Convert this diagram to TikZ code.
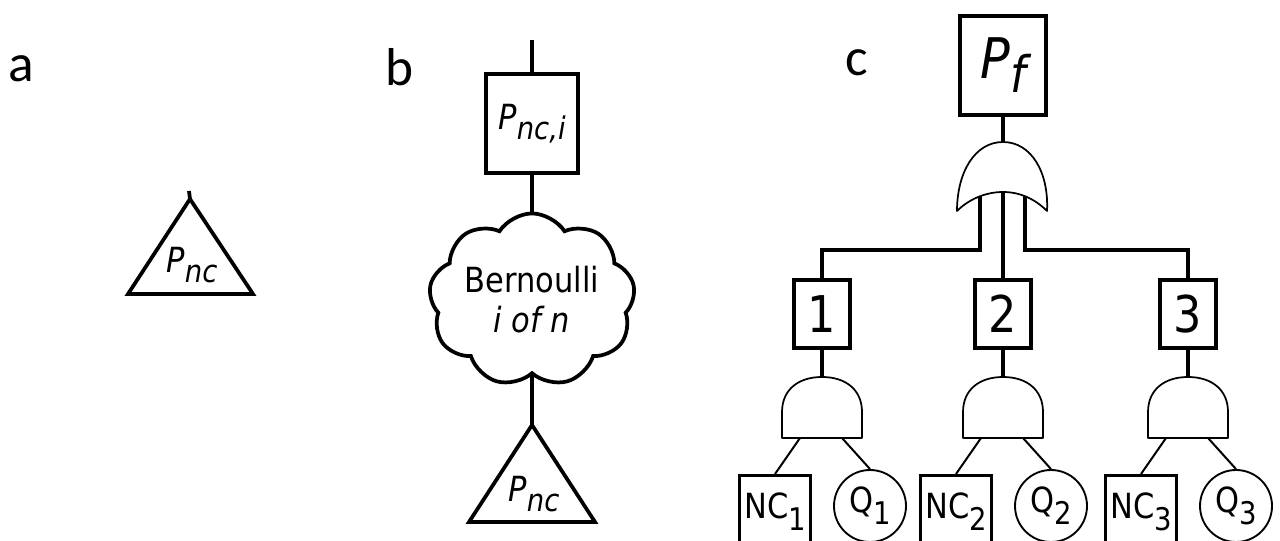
\documentclass[tikz,border=0pt]{standalone}
\usepackage{fontspec}
\usepackage{graphicx}
\setmainfont[FakeStretch=0.88]{DejaVu Sans}
\newfontfamily\labfont{Carlito}
\usetikzlibrary{shapes.symbols,backgrounds}
\newcommand{\lsub}[2][0.3em]{\raisebox{-#1}{\scalebox{0.9}{#2}}}
\begin{document}
\begin{tikzpicture}[x=0.75pt,y=-0.75pt,
  thk/.style={line width=2.8pt},
  thn/.style={line width=1.3pt},
  lab/.style={font=\labfont\fontsize{40}{40}\selectfont, inner sep=0pt},
  bx/.style={draw, thk, fill=white, inner sep=0pt},
  gate/.style={draw, thn, fill=white, line join=round},
  leaf/.style={line width=1.5pt},
  ptxt/.style={font=\fontsize{26}{26}\selectfont\itshape, inner sep=0pt}]

\useasboundingbox (0,0) rectangle (1280,541);

% panel labels
\node[lab] (la) at (21,69) {a};
\node[lab] (lb) at (400,67) {b};
\node[lab] (lc) at (857,63) {c};

% ---------------- panel a
\coordinate (aStub) at (189,191);
\coordinate (aApex) at (190,199);
\draw[thk] (aApex) -- (253,294) -- (128,294) -- cycle;
\draw[thk] (aStub) -- (aApex);
\node[ptxt] (aTxt) at (192,265) {P\lsub{nc}};

% ---------------- panel b
\coordinate (bTop) at (532,40);
\node[bx, minimum width=68.5pt, minimum height=74.5pt, font=\fontsize{26}{26}\selectfont\itshape] (bBox) at (532,123.5) {P\lsub{nc,i}};
\node[cloud, draw, thk, fill=white, cloud puffs=9, cloud puff arc=115, aspect=1.3,
      minimum width=149pt, minimum height=113pt, inner sep=0pt, align=center,
      font=\fontsize{26}{30}\selectfont] (bCloud) at (532,300) {Bernoulli\\\textit{i of n}};
\coordinate (bApex) at (532,425);
\draw[thk] (bApex) -- (595,522) -- (469,522) -- cycle;
\node[ptxt] (bTxt) at (534,494) {P\lsub{nc}};
\draw[thk] (bTop) -- (bBox.north);
\begin{pgfonlayer}{background}
\draw[thk] (bBox.south) -- (bCloud.center);
\draw[thk] (bCloud.center) -- (bApex);
\end{pgfonlayer}

% ---------------- panel c
\node[bx, minimum width=64pt, minimum height=74.5pt, font=\fontsize{42}{42}\selectfont\itshape] (pf) at (1003,65.5) {P\lsub[0.25em]{f}};
\coordinate (orTop) at (1003,142);
\coordinate (orMid) at (1003,192);
\coordinate (orL) at (980,185);
\coordinate (orR) at (1025,185);
\coordinate (jL) at (980,250);
\coordinate (jR) at (1025,250);

\foreach \i/\cx in {1/822,2/1003,3/1188}{
  \node[bx, minimum width=42.2pt, minimum height=51.2pt, font=\fontsize{38}{38}\selectfont] (b\i) at (\cx,314) {\i};
  \coordinate (g\i) at (\cx,377);
  \coordinate (gL\i) at (\cx-22,438);
  \coordinate (gR\i) at (\cx+20,438);
  \node[draw, line width=2.5pt, fill=white, inner sep=0pt, minimum width=53pt, minimum height=54.5pt,
        font=\fontsize{26}{26}\selectfont] (nc\i) at (\cx-47,512) {NC\lsub[0.35em]{\i}};
  \node[draw, circle, line width=1.4pt, fill=white, inner sep=0pt, minimum size=54pt,
        font=\fontsize{26}{26}\selectfont] (q\i) at (\cx+48,506) {Q\lsub[0.35em]{\i}};
  \draw[thk] (b\i.south) -- (g\i);
  \draw[gate] (\cx-40,438) -- (\cx-40,412) .. controls (\cx-40,390) and (\cx-24,377) .. (g\i)
     .. controls (\cx+24,377) and (\cx+40,390) .. (\cx+40,412) -- (\cx+40,438) -- cycle;
  \draw[leaf] (gL\i) -- (nc\i.north);
  \draw[leaf] (gR\i) -- (q\i.north);
}

\draw[thk] (pf.south) -- (orTop);
\draw[thk] (orL) -- (jL) -| (b1.north);
\draw[thk] (orR) -- (jR) -| (b3.north);
\draw[thk] (orMid) -- (b2.north);
\draw[gate] (957,211) .. controls (957,172) and (975,142) .. (orTop)
   .. controls (1031,142) and (1049,172) .. (1047,211)
   .. controls (1035,199) and (1020,192) .. (orMid)
   .. controls (986,192) and (969,199) .. (957,211) -- cycle;
\end{tikzpicture}
\end{document}
